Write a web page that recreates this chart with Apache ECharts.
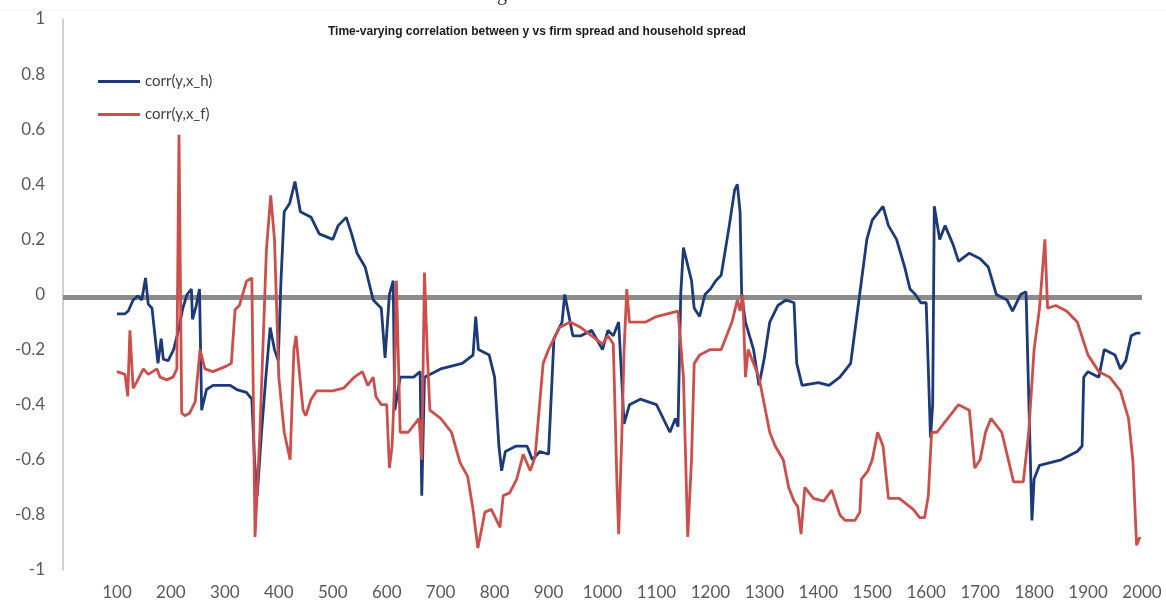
<!DOCTYPE html>
<html>
<head>
<meta charset="utf-8">
<script src="https://cdn.jsdelivr.net/npm/echarts@6/dist/echarts.min.js"></script>
<style>
  html, body { margin: 0; padding: 0; background: #fff; }
  #chart { width: 1166px; height: 605px; }
</style>
</head>
<body>
<div id="chart"></div>
<script>
// corr(y,x_h) - 蓝线
const hX = [100,115,121,130,139,146,153,158,165,176,182,186,195,205,214,222,230,238,240,247,253,255,257,266,278,310,322,340,350,355,360,368,376,384,392,399,404,410,420,430,440,460,475,500,510,525,535,545,560,575,590,597,605,612,615,625,650,662,665,670,700,740,760,765,770,790,800,808,813,820,840,860,870,884,900,910,925,930,935,945,960,980,1000,1010,1020,1030,1040,1050,1070,1100,1125,1135,1140,1145,1150,1165,1170,1180,1190,1200,1210,1220,1235,1245,1250,1255,1258,1265,1280,1290,1300,1310,1325,1340,1355,1360,1370,1400,1420,1440,1460,1470,1480,1490,1500,1520,1530,1545,1560,1570,1580,1590,1600,1608,1612,1615,1625,1635,1650,1660,1680,1700,1715,1730,1750,1760,1775,1785,1796,1800,1810,1850,1880,1889,1892,1900,1920,1930,1950,1960,1970,1980,1990,1997];
const hY = [-0.07,-0.07,-0.06,-0.02,-0.005,-0.02,0.06,-0.035,-0.05,-0.25,-0.16,-0.235,-0.24,-0.2,-0.13,-0.05,0.0,0.02,-0.09,-0.04,0.02,-0.2,-0.42,-0.345,-0.33,-0.33,-0.345,-0.355,-0.38,-0.6,-0.73,-0.5,-0.3,-0.12,-0.2,-0.24,0.05,0.3,0.33,0.41,0.3,0.28,0.22,0.2,0.25,0.28,0.22,0.15,0.1,-0.02,-0.05,-0.23,0.0,0.05,-0.42,-0.3,-0.3,-0.28,-0.73,-0.3,-0.27,-0.25,-0.22,-0.08,-0.2,-0.22,-0.3,-0.55,-0.64,-0.57,-0.55,-0.55,-0.6,-0.57,-0.58,-0.16,-0.1,0.0,-0.05,-0.15,-0.15,-0.13,-0.2,-0.13,-0.15,-0.1,-0.47,-0.4,-0.38,-0.4,-0.5,-0.45,-0.48,0.0,0.17,0.05,-0.05,-0.08,0.0,0.02,0.05,0.07,0.25,0.38,0.4,0.3,0.0,-0.1,-0.2,-0.33,-0.23,-0.1,-0.04,-0.02,-0.03,-0.25,-0.33,-0.32,-0.33,-0.3,-0.25,-0.1,0.05,0.2,0.27,0.32,0.25,0.2,0.1,0.02,0.0,-0.03,-0.03,-0.52,-0.4,0.32,0.2,0.25,0.18,0.12,0.15,0.13,0.1,0.0,-0.02,-0.06,0.0,0.01,-0.82,-0.67,-0.62,-0.6,-0.57,-0.55,-0.3,-0.28,-0.3,-0.2,-0.22,-0.27,-0.24,-0.15,-0.14,-0.14];

// corr(y,x_f) - 红线
const fX = [100,115,120,124,130,136,149,158,174,180,192,204,211,215,220,226,235,245,254,263,278,303,312,319,327,340,350,356,365,377,385,392,400,410,421,428,432,439,445,450,460,470,480,500,520,540,555,565,575,580,590,600,605,610,614,618,620,625,640,660,665,670,675,680,700,720,736,750,760,769,782,794,810,816,828,841,853,866,875,890,900,920,940,960,980,1000,1010,1020,1027,1030,1036,1040,1045,1050,1060,1080,1100,1120,1140,1150,1158,1165,1170,1180,1200,1220,1240,1250,1255,1260,1265,1270,1280,1290,1300,1310,1320,1335,1345,1355,1362,1368,1375,1391,1410,1425,1440,1450,1468,1477,1480,1492,1500,1510,1520,1530,1550,1576,1588,1597,1604,1610,1620,1640,1660,1680,1690,1700,1710,1720,1740,1762,1780,1790,1800,1810,1820,1825,1840,1860,1880,1900,1920,1940,1960,1975,1983,1990,1996];
const fY = [-0.28,-0.29,-0.37,-0.13,-0.34,-0.32,-0.27,-0.29,-0.27,-0.3,-0.31,-0.3,-0.27,0.58,-0.43,-0.44,-0.43,-0.39,-0.2,-0.27,-0.28,-0.26,-0.25,-0.055,-0.04,0.048,0.06,-0.88,-0.5,0.16,0.36,0.2,-0.3,-0.5,-0.6,-0.2,-0.15,-0.3,-0.42,-0.44,-0.38,-0.35,-0.35,-0.35,-0.34,-0.3,-0.28,-0.33,-0.3,-0.37,-0.4,-0.4,-0.63,-0.55,-0.35,0.05,0.05,-0.5,-0.5,-0.45,-0.6,0.08,-0.2,-0.42,-0.45,-0.5,-0.61,-0.66,-0.78,-0.92,-0.79,-0.78,-0.845,-0.73,-0.72,-0.67,-0.58,-0.64,-0.59,-0.25,-0.2,-0.12,-0.1,-0.12,-0.15,-0.18,-0.15,-0.18,-0.7,-0.87,-0.5,-0.2,0.02,-0.1,-0.1,-0.1,-0.08,-0.07,-0.06,-0.3,-0.88,-0.6,-0.25,-0.22,-0.2,-0.2,-0.1,-0.02,-0.06,0.0,-0.3,-0.2,-0.25,-0.3,-0.4,-0.5,-0.55,-0.6,-0.7,-0.75,-0.77,-0.87,-0.7,-0.74,-0.75,-0.71,-0.8,-0.82,-0.82,-0.79,-0.67,-0.64,-0.6,-0.5,-0.55,-0.74,-0.74,-0.78,-0.81,-0.81,-0.73,-0.5,-0.5,-0.45,-0.4,-0.42,-0.63,-0.6,-0.5,-0.45,-0.5,-0.68,-0.68,-0.5,-0.2,-0.05,0.2,-0.05,-0.04,-0.06,-0.1,-0.22,-0.28,-0.3,-0.35,-0.45,-0.6,-0.91,-0.88];

const seriesNames = ['corr(y,x_h)', 'corr(y,x_f)'];
const seriesColors = ['#1d3a78', '#cc4f4b'];
const titleText = 'Time-varying correlation between y vs firm spread and household spread';
const zeroLineValue = -0.015;

const chart = echarts.init(document.getElementById('chart'));

const toPairs = (xs, ys) => xs.map((x, i) => [x, ys[i]]);

const option = {
  animation: false,
  backgroundColor: '#fff',
  textStyle: { fontFamily: 'Lato' },
  graphic: [
    // 顶部被截掉的标题残影
    {
      type: 'line',
      shape: { x1: 0, y1: 10, x2: 1166, y2: 10 },
      style: { stroke: '#eeeeee', lineWidth: 1 },
      silent: true,
    },
    {
      type: 'text',
      left: 497,
      top: -15,
      style: { text: 'g', font: '20px "Liberation Serif"', fill: '#333' },
      silent: true,
    },
    {
      type: 'text',
      left: 328,
      top: 26,
      style: { text: titleText, font: 'bold 12px "Liberation Sans"', fill: '#1a1a1a' },
      silent: true,
    },
  ],
  legend: {
    orient: 'vertical',
    left: 93,
    top: 69,
    itemWidth: 42,
    itemHeight: 3,
    itemGap: 18,
    icon: 'rect',
    textStyle: { color: '#404040', fontSize: 15, fontFamily: 'Lato' },
    data: seriesNames,
  },
  grid: {
    left: 63,
    right: 24,
    top: 19,
    bottom: 35,
  },
  xAxis: {
    type: 'value',
    min: 0,
    max: 2000,
    interval: 100,
    axisLine: { show: false },
    axisTick: { show: false },
    splitLine: { show: false },
    axisLabel: {
      color: '#595959',
      fontSize: 17,
      margin: 14,
      formatter: v => (v === 0 ? '' : String(v)),
    },
  },
  yAxis: {
    type: 'value',
    min: -1,
    max: 1,
    interval: 0.2,
    axisLine: { show: true, lineStyle: { color: '#c0c0c0', width: 1.5 } },
    axisTick: { show: false },
    splitLine: { show: false },
    axisLabel: {
      color: '#595959',
      fontSize: 17,
      margin: 18,
      formatter: v => String(Math.round(v * 10) / 10),
    },
  },
  series: [
    {
      name: seriesNames[0],
      type: 'line',
      data: toPairs(hX, hY),
      symbol: 'none',
      lineStyle: { color: seriesColors[0], width: 2.8 },
      itemStyle: { color: seriesColors[0] },
      // 零轴（灰色粗线）
      markLine: {
        silent: true,
        symbol: 'none',
        label: { show: false },
        lineStyle: { color: '#8c8c8c', width: 5, type: 'solid' },
        data: [{ yAxis: zeroLineValue }],
        z: 1,
      },
      z: 3,
    },
    {
      name: seriesNames[1],
      type: 'line',
      data: toPairs(fX, fY),
      symbol: 'none',
      lineStyle: { color: seriesColors[1], width: 2.8 },
      itemStyle: { color: seriesColors[1] },
      z: 4,
    },
  ],
};

chart.setOption(option);
</script>
</body>
</html>
